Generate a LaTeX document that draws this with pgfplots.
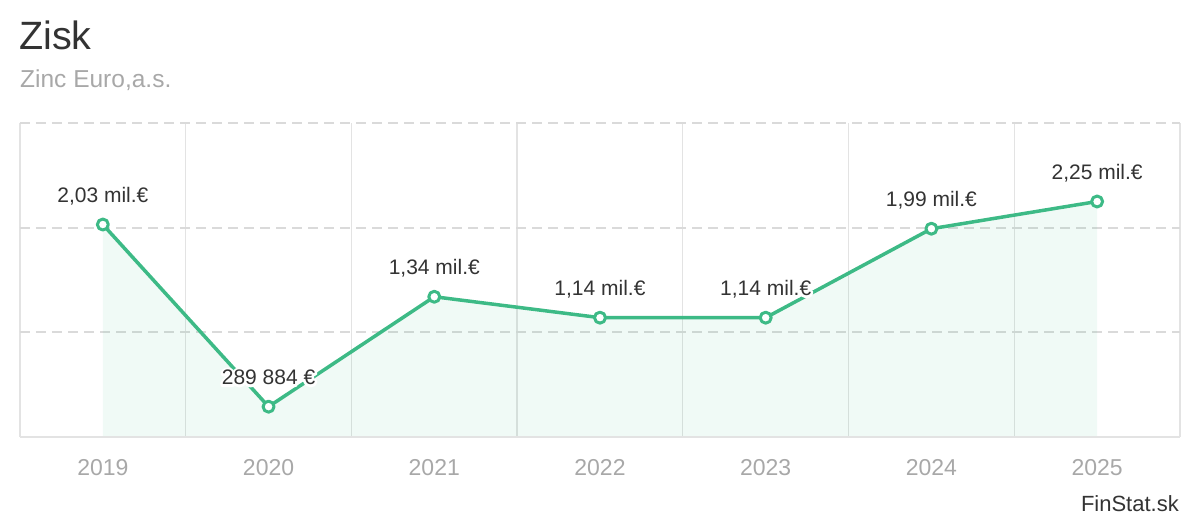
\documentclass[border=0pt]{standalone}
\usepackage{pgfplots}
\pgfplotsset{compat=1.18}
\usepackage{fontspec}
\setmainfont{Liberation Sans}
\definecolor{linegreen}{HTML}{3DBA86}
\definecolor{gridgray}{HTML}{E3E3E3}
\definecolor{dashgray}{HTML}{DADADA}
\definecolor{ticklab}{HTML}{A8A8A8}
\definecolor{darktext}{HTML}{333333}
\definecolor{subgray}{HTML}{A8A8A8}
\newcommand\halo[1]{\leavevmode\rlap{\special{pdf:literal direct 1 Tr 5 w 1 J 1 j 1 1 1 RG}#1\special{pdf:literal direct 0 Tr 0.2 0.2 0.2 RG}}#1}
\begin{document}
\begin{tikzpicture}[x=1pt,y=1pt]
\path[use as bounding box] (0,0) rectangle (1200,520);
\node[anchor=base west, inner sep=0, font=\fontsize{39.5}{44}\selectfont, text=darktext] at (19,470) {Zisk};
\node[anchor=base west, inner sep=0, font=\fontsize{24.5}{28}\selectfont, text=subgray] at (20,432) {Zinc Euro,a.s.};
\node[anchor=base east, inner sep=0, font=\fontsize{22}{26}\selectfont, text=darktext] at (1179,9) {FinStat.sk};
\begin{axis}[
  at={(20pt,83pt)}, anchor=south west,
  scale only axis, width=1160pt, height=314pt,
  xmin=-0.5, xmax=6.5, ymin=0, ymax=3,
  axis line style={draw=none},
  ytick={1,2,3}, yticklabels={},
  ymajorgrids,
  major grid style={dashgray, line width=1.8pt, dash pattern=on 10pt off 6pt},
  xtick={0,1,2,3,4,5,6},
  xticklabels={2019,2020,2021,2022,2023,2024,2025},
  major tick length=0, minor tick length=0,
  minor xtick={-0.5,0.5,1.5,2.5,3.5,4.5,5.5,6.5},
  xminorgrids,
  minor grid style={gridgray, line width=1.3pt},
  xticklabel style={font=\fontsize{23}{26}\selectfont, text=ticklab, yshift=-19pt},
  clip=false,
]
\addplot[draw=none, fill=linegreen, fill opacity=0.08] coordinates {
  (0,2.03) (1,0.289884) (2,1.34) (3,1.14) (4,1.14) (5,1.99) (6,2.25)
} \closedcycle;
\draw[gridgray, line width=2pt] (axis cs:-0.5,0) -- (axis cs:6.5,0);
\addplot[linegreen, line width=3.5pt, line join=round,
  mark=*, mark size=5.5pt, mark options={fill=white, draw=linegreen, line width=3pt},
  point meta=explicit symbolic,
  nodes near coords={\halo{\pgfplotspointmeta}},
  nodes near coords style={font=\fontsize{21}{24}\selectfont, text=darktext, anchor=base, yshift=22pt, inner sep=0pt},
] coordinates {
  (0,2.03) [2,03 mil.€]
  (1,0.289884) [289 884 €]
  (2,1.34) [1,34 mil.€]
  (3,1.14) [1,14 mil.€]
  (4,1.14) [1,14 mil.€]
  (5,1.99) [1,99 mil.€]
  (6,2.25) [2,25 mil.€]
};
\end{axis}
\end{tikzpicture}
\end{document}
